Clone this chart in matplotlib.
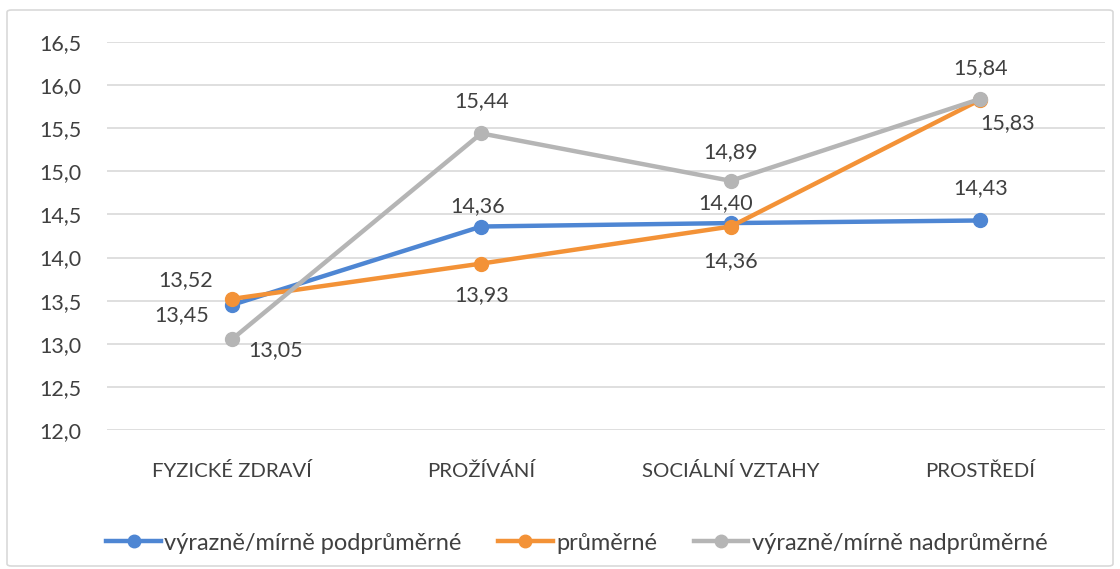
import matplotlib
matplotlib.use("Agg")
import matplotlib.pyplot as plt
from matplotlib.patches import FancyBboxPatch
from matplotlib.lines import Line2D

categories = ["FYZICKÉ ZDRAVÍ", "PROŽÍVÁNÍ", "SOCIÁLNÍ VZTAHY", "PROSTŘEDÍ"]
series_names = ["výrazně/mírně podprůměrné", "průměrné", "výrazně/mírně nadprůměrné"]
below = [13.45, 14.36, 14.40, 14.43]
average = [13.52, 13.93, 14.36, 15.83]
above = [13.05, 15.44, 14.89, 15.84]
yticks = [12.0, 12.5, 13.0, 13.5, 14.0, 14.5, 15.0, 15.5, 16.0, 16.5]

colors = ["#4E86D3", "#F39237", "#B5B5B5"]
# label offsets in pixels (dx, dy) for each series/point
offsets = [
    [(-50, -10), (-4, 20), (-5, 20), (0, 32)],
    [(-46, 19), (0, -32), (0, -35), (27, -23)],
    [(44, -11), (0, 32), (0, 29), (0, 31)],
]

plt.rcParams['font.family'] = ['Lato', 'DejaVu Sans']
fig = plt.figure(figsize=(11.2, 5.69), dpi=100)
fig.patches.append(FancyBboxPatch((7/1120, 3/569), 1106/1120, 556/569,
                                  boxstyle="round,pad=0,rounding_size=0.004",
                                  transform=fig.transFigure, fill=False,
                                  edgecolor="#D9D9D9", linewidth=1.2))
ax = fig.add_axes([107/1120, (569-430)/569, (1105-107)/1120, (430-42)/569])
x = list(range(len(categories)))
for vals, col, name, offs in zip([below, average, above], colors, series_names, offsets):
    ax.plot(x, vals, color=col, lw=3.2, marker='o', markersize=10, label=name,
            solid_capstyle='round', zorder=3)
    for xi, v, (dx, dy) in zip(x, vals, offs):
        ax.annotate(f"{v:.2f}".replace('.', ','), (xi, v), xytext=(dx, dy),
                    textcoords='offset pixels', ha='center', va='center',
                    fontsize=15.5, color='#404040', zorder=5)

ax.set_xlim(-0.5, 3.5)
ax.set_ylim(12.0, 16.5)
ax.set_yticks(yticks)
ax.set_yticklabels([f"{t:.1f}".replace('.', ',') for t in yticks])
ax.set_xticks(x)
ax.set_xticklabels(categories)
ax.grid(axis='y', color='#D9D9D9', lw=1.2)
ax.set_axisbelow(True)
for s in ax.spines.values():
    s.set_visible(False)
ax.tick_params(axis='y', length=0, pad=49, labelsize=15.5, labelcolor='#404040')
ax.tick_params(axis='x', length=0, pad=23, labelsize=14.7, labelcolor='#404040')
for lbl in ax.get_yticklabels():
    lbl.set_horizontalalignment('left')

handles = [Line2D([0], [0], color=c, lw=3.2, marker='o', markersize=9) for c in colors]
fig.legend(handles, series_names, loc='center', bbox_to_anchor=(0.515, (569-543)/569),
           ncol=3, frameon=False, fontsize=17, handlelength=2.3, handletextpad=0.15,
           columnspacing=1.55, labelcolor='#404040')
fig.savefig("out.png", dpi=100)
